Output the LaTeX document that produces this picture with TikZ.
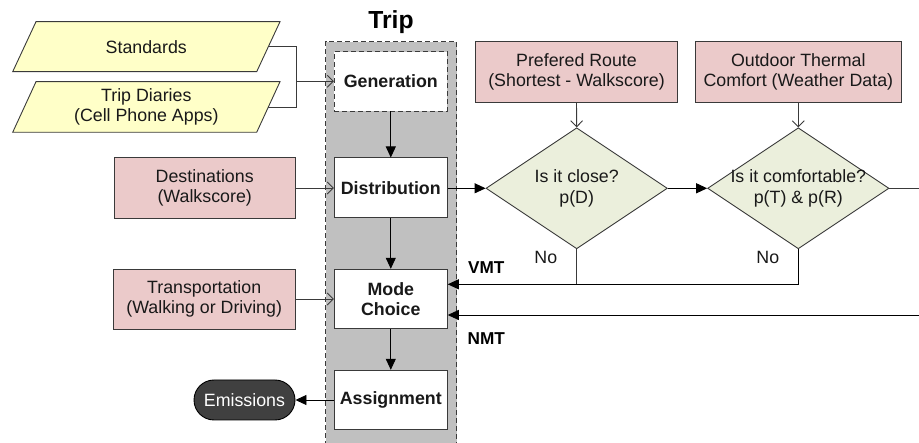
\documentclass[tikz,border=0pt]{standalone}
\usepackage{fontspec}
\setmainfont{Liberation Sans}
\usetikzlibrary{shapes.geometric,arrows.meta}
\definecolor{yel}{HTML}{FFFFC8}
\definecolor{pnk}{HTML}{EBCACA}
\definecolor{grn}{HTML}{EBEFDC}
\definecolor{gry}{HTML}{C0C0C0}
\definecolor{edgec}{HTML}{3A3A3A}
\definecolor{emis}{HTML}{404040}
\begin{document}
\begin{tikzpicture}[x=1pt,y=-1pt,
  txt/.style={font=\fontsize{17.8}{20.7}\selectfont, align=center, text=black!90},
  bx/.style={draw=edgec, line width=0.9pt, inner sep=0pt, txt},
  pinkbox/.style={bx, fill=pnk},
  tripbox/.style={bx, fill=white, minimum width=113pt, minimum height=59.5pt,
    font=\fontsize{17.8}{20.7}\selectfont\bfseries},
  para/.style={draw=edgec, line width=0.9pt, fill=yel},
  dia/.style={diamond, draw=edgec, line width=0.9pt, fill=grn, inner sep=0pt,
    minimum width=181.3pt, minimum height=121pt},
  lbl/.style={font=\fontsize{17.8}{20.7}\selectfont, text=black!90},
  blbl/.style={font=\fontsize{17.2}{20}\selectfont\bfseries},
  conn/.style={draw=edgec, line width=0.9pt},
  openarr/.style={conn, -{Straight Barb[length=6pt,width=12pt]}},
  fillarr/.style={draw=black, line width=0.9pt, -{Triangle[length=11pt,width=10pt]}},
  emisbox/.style={fill=emis, draw=black, line width=0.9pt, rounded corners=20pt,
    minimum width=101pt, minimum height=40pt, inner sep=0pt,
    font=\fontsize{17.8}{20.7}\selectfont, text=white},
  dashbord/.style={draw=edgec, line width=0.9pt, dash pattern=on 5pt off 3pt}
]
\useasboundingbox (0,0) rectangle (919,443);

% Trip swimlane
\fill[gry] (325.7,41.7) rectangle (456.7,446);
\draw[dashbord] (325.7,446) -- (325.7,41.7) -- (456.7,41.7) -- (456.7,446);
\node[font=\fontsize{24.7}{28}\selectfont\bfseries] (title) at (391,22.5) {Trip};

% trip steps
\node[tripbox, dashbord, fill=white] (gen) at (390.8,81.3) {Generation};
\node[tripbox] (dist) at (390.8,187.7) {Distribution};
\node[tripbox] (mc) at (390.8,299) {Mode\\Choice};
\node[tripbox] (asg) at (390.8,400) {Assignment};

% parallelograms
\draw[para] (36,21.7) -- (280,21.7) -- (256.7,71.7) -- (12.7,71.7) -- cycle;
\node[txt] (std) at (146.3,46.7) {Standards};
\draw[para] (36,81.7) -- (280,81.7) -- (256.7,132.3) -- (12.7,132.3) -- cycle;
\node[txt] (td) at (146.3,107) {Trip Diaries\\(Cell Phone Apps)};

% pink boxes
\node[pinkbox, minimum width=180.7pt, minimum height=60.6pt] (dest) at (204.7,188) {Destinations\\(Walkscore)};
\node[pinkbox, minimum width=181.7pt, minimum height=60pt] (trans) at (204.2,299) {Transportation\\(Walking or Driving)};
\node[pinkbox, minimum width=201.6pt, minimum height=60.6pt] (route) at (576.5,72) {Prefered Route\\(Shortest - Walkscore)};
\node[pinkbox, minimum width=206.7pt, minimum height=60.6pt] (otc) at (798.3,72) {Outdoor Thermal\\Comfort (Weather Data)};

% diamonds
\node[dia] (d1) at (576.7,188.3) {};
\node[txt] (d1t) at (d1.center) {Is it close?\\p(D)};
\node[dia] (d2) at (798.3,188.3) {};
\node[txt] (d2t) at (d2.center) {Is it comfortable?\\p(T) \& p(R)};

% emissions
\node[emisbox] (em) at (244.5,400) {Emissions};

% connectors
\coordinate (stdR) at (268.3,46.7);
\coordinate (tdR) at (268.3,107);
\coordinate (jn) at (296,81.3);
\draw[conn] (stdR) -| (jn);
\draw[conn] (tdR) -| (jn);
\draw[openarr] (jn) -- (gen.west);
\draw[openarr] (dest.east) -- (dest.east -| dist.west);
\draw[openarr] (trans.east) -- (trans.east -| mc.west);
\draw[openarr] (route.south) -- (d1.north);
\draw[openarr] (otc.south) -- (d2.north);

\draw[fillarr] (gen) -- (dist);
\draw[fillarr] (dist) -- (mc);
\draw[fillarr] (mc) -- (asg);
\draw[fillarr] (asg) -- (em);
\draw[fillarr] (dist.east |- d1.west) -- (d1.west);
\draw[fillarr] (d1.east) -- (d2.west);
\coordinate (rgt) at (919,188.3);
\draw[conn] (d2.east) -- (rgt);

\coordinate (vmt) at (600,284.3);
\draw[conn] (d1.south) -- (d1.south |- vmt);
\draw[fillarr] (d2.south) |- (vmt -| mc.east);
\coordinate (nmtr) at (919,315);
\draw[fillarr] (nmtr) -- (nmtr -| mc.east);

% labels
\node[lbl] (no1) at (545.8,257.5) {No};
\node[lbl] (no2) at (767.8,257.5) {No};
\node[blbl] (vmtl) at (486.3,267.5) {VMT};
\node[blbl] (nmtl) at (486.3,338.7) {NMT};
\end{tikzpicture}
\end{document}
